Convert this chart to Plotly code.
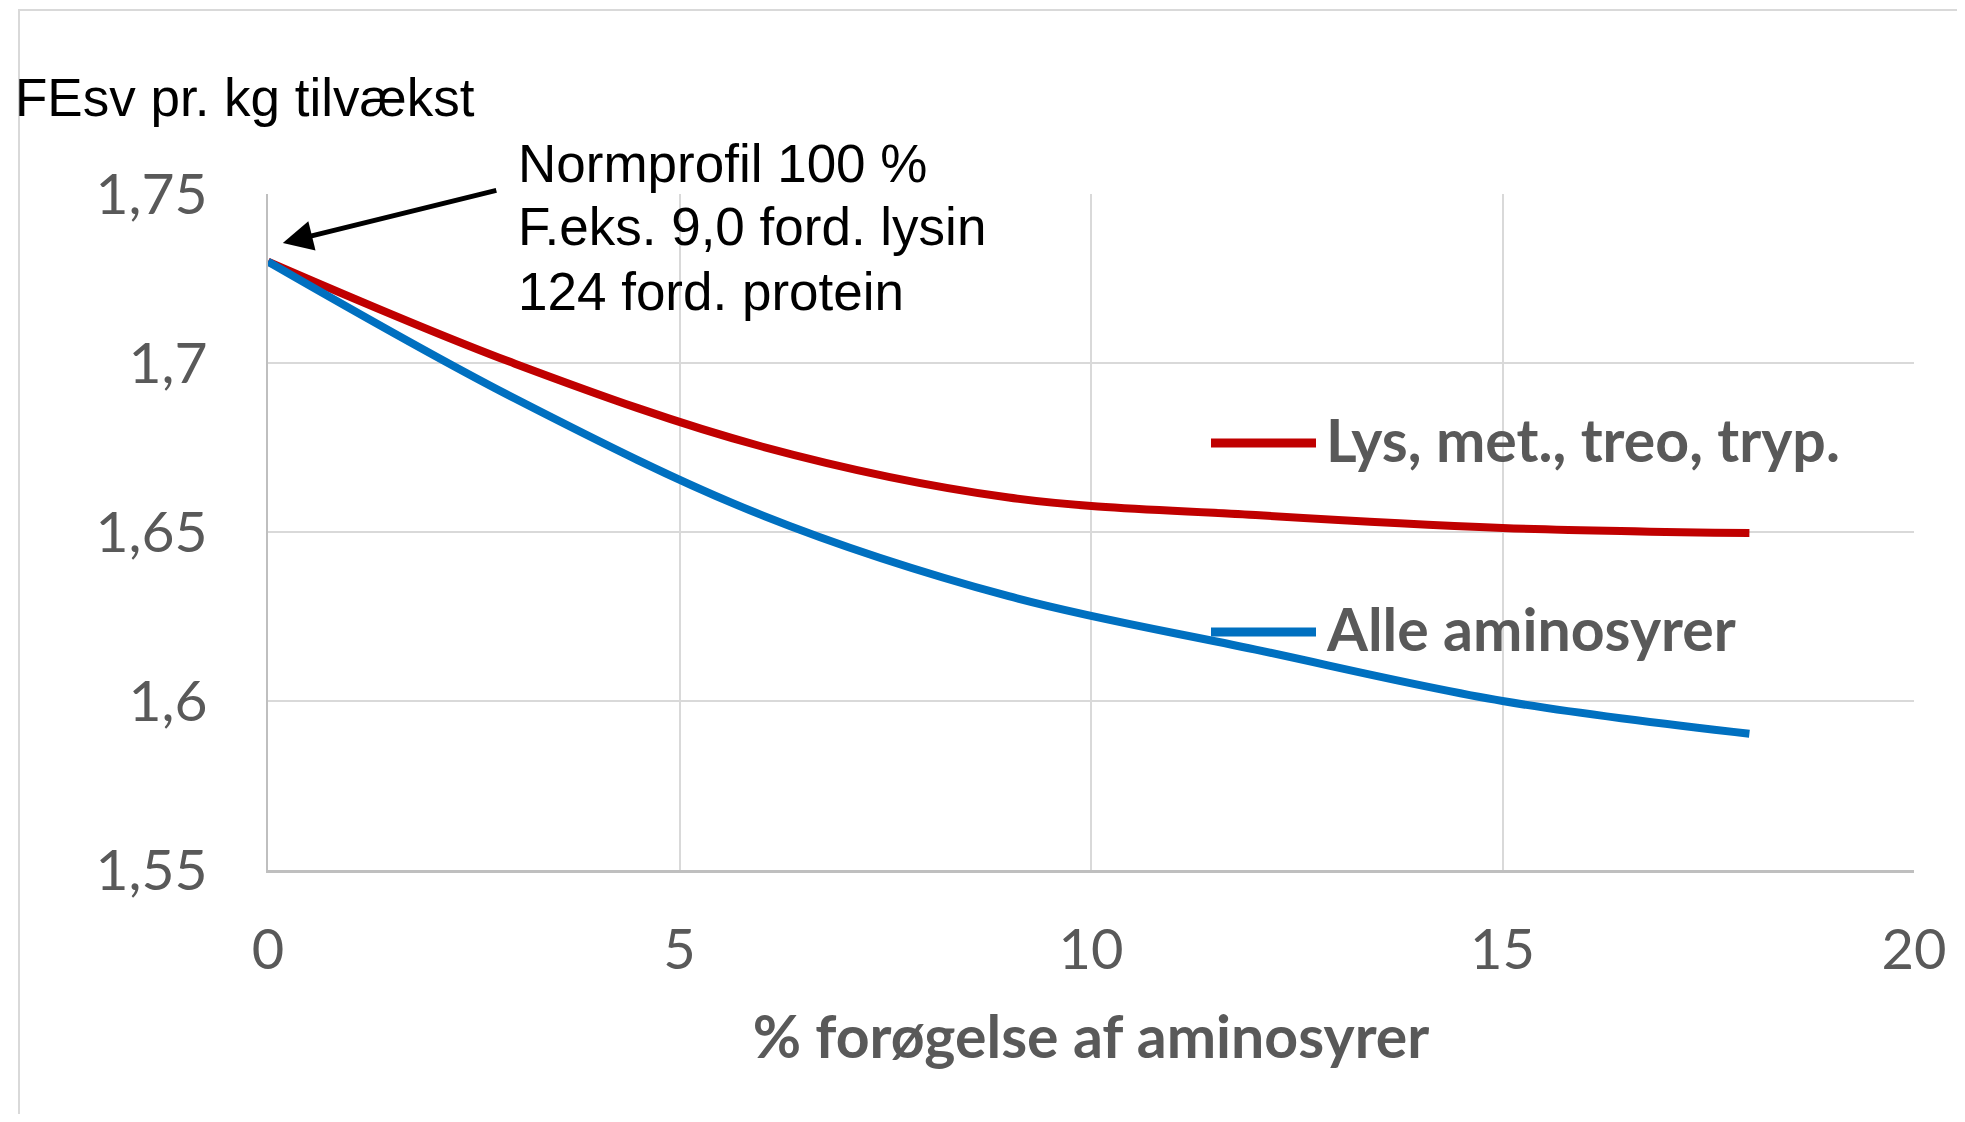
import plotly.graph_objects as go

# ---- data ----
x_vals = [0, 3, 6, 9, 12, 15, 18]
red_vals = [1.730, 1.6998, 1.6753, 1.6602, 1.6550, 1.6512, 1.6497]
blue_vals = [1.730, 1.6895, 1.6550, 1.6310, 1.6152, 1.6000, 1.5903]
series_names = ["Lys, met., treo, tryp.", "Alle aminosyrer"]
series_colors = ["#C00000", "#0070C0"]
y_title = "FEsv pr. kg tilvækst"
x_title = "% forøgelse af aminosyrer"
note_lines = ["Normprofil 100 %", "F.eks. 9,0 ford. lysin", "124 ford. protein"]

# page body has an 8px margin; keep the figure inside the viewport
OFF = 8
SCREEN_W, SCREEN_H = 1965, 1122
W, H = SCREEN_W - 2 * OFF, SCREEN_H - 2 * OFF
PL, PR, PT, PB = 268, 1914, 194, 870  # plot area in screen pixels
L, T = PL - OFF, PT - OFF
R, B = W - (PR - OFF), H - (PB - OFF)
pw, ph = PR - PL, PB - PT

def px(xs):
    return (xs - PL) / pw

def py(ys):
    return (PB - ys) / ph

GRAY = "#595959"
BOLD_FONT = "Lato"
SANS = "Liberation Sans, Arial"

fig = go.Figure()
for vals, name, col in zip([red_vals, blue_vals], series_names, series_colors):
    fig.add_trace(go.Scatter(x=x_vals, y=vals, mode="lines", name=name,
                             line=dict(color=col, width=8, shape="spline", smoothing=1.0),
                             showlegend=False))

fig.update_layout(
    width=W, height=H,
    margin=dict(l=L, r=R, t=T, b=B, autoexpand=False),
    paper_bgcolor="white", plot_bgcolor="white",
    separators=", ",
    xaxis=dict(range=[0, 20], tick0=0, dtick=5, showgrid=True, gridcolor="#D9D9D9", gridwidth=2,
               zeroline=False, showline=True, linecolor="#BFBFBF", linewidth=3,
               ticks="", ticklabelstandoff=29,
               tickfont=dict(family=BOLD_FONT, size=56, color=GRAY),
               title=dict(text=f"<b>{x_title}</b>", font=dict(family=BOLD_FONT, size=59, color=GRAY), standoff=37)),
    yaxis=dict(range=[1.55, 1.75], tick0=1.55, dtick=0.05, tickformat=".2~f",
               showgrid=True, gridcolor="#D9D9D9", gridwidth=2,
               zeroline=False, showline=True, linecolor="#BFBFBF", linewidth=2,
               ticks="", ticklabelstandoff=47,
               tickfont=dict(family=BOLD_FONT, size=57, color=GRAY)),
)

# outer chart border
fig.add_shape(type="rect", xref="paper", yref="paper", x0=px(19), x1=px(2100), y0=py(1300), y1=py(10),
              line=dict(color="#D9D9D9", width=2), layer="below")

# legend keys drawn inline
leg_y = [443, 632]
for name, col, yy in zip(series_names, series_colors, leg_y):
    fig.add_shape(type="line", xref="paper", yref="paper", x0=px(1211), x1=px(1316), y0=py(yy), y1=py(yy),
                  line=dict(color=col, width=9))
    fig.add_annotation(xref="paper", yref="paper", x=px(1324), y=py(yy - 4), xanchor="left", yanchor="middle",
                       text=f"<b>{name}</b>", showarrow=False,
                       font=dict(family=BOLD_FONT, size=59, color=GRAY))

# y title
fig.add_annotation(xref="paper", yref="paper", x=px(13), y=py(97), xanchor="left", yanchor="middle",
                   text=y_title, showarrow=False, font=dict(family=SANS, size=53, color="black"))

# note text, one line per annotation
for i, line in enumerate(note_lines):
    fig.add_annotation(xref="paper", yref="paper", x=px(516), y=py(163 + 64 * i), xanchor="left",
                       yanchor="middle", text=line, showarrow=False,
                       font=dict(family=SANS, size=53, color="black"))

# arrow
fig.add_annotation(x=0.18, y=1.7355, xref="x", yref="y", text="", showarrow=True,
                   ax=215, ay=-53, axref="pixel", ayref="pixel",
                   arrowhead=2, arrowsize=1.2, arrowwidth=5, arrowcolor="black", standoff=0)

fig.write_html("out.html")
